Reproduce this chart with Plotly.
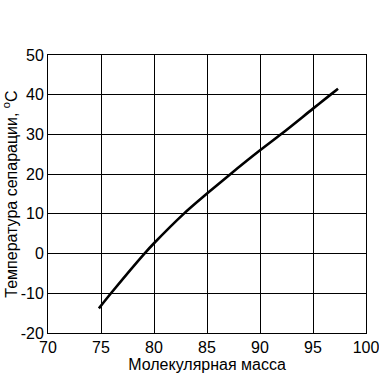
import plotly.graph_objects as go

mass = [74.8, 76.0, 79.1, 80.0, 82.8, 85.0, 87.2, 90.0, 92.1, 95.0, 96.6, 97.36]
temp = [-13.8, -9.8, 0.0, 2.6, 10.0, 15.1, 20.0, 26.0, 30.3, 36.5, 39.9, 41.5]

x_ticks = [70, 75, 80, 85, 90, 95, 100]
y_ticks = [-20, -10, 0, 10, 20, 30, 40, 50]

fig = go.Figure()
fig.add_trace(go.Scatter(x=mass, y=temp, mode="lines",
                         line=dict(color="black", width=2.6, shape="spline", smoothing=0.9),
                         showlegend=False))

font = dict(family="Liberation Sans, Arial, sans-serif", size=16, color="black")
axis_common = dict(showgrid=True, gridcolor="black", gridwidth=1,
                   showline=True, linecolor="black", linewidth=1, mirror=True,
                   zeroline=False, ticks="", tickfont=font, automargin=False,
                   ticklabeloverflow="allow")

fig.update_layout(
    width=379, height=378,
    margin=dict(l=48, r=13, t=55, b=45),
    paper_bgcolor="white", plot_bgcolor="white",
    xaxis=dict(range=[70, 100], tickvals=x_ticks, ticktext=[str(v) for v in x_ticks],
               title=dict(text="Молекулярная масса", font=font, standoff=0), **axis_common),
    yaxis=dict(range=[-20, 50], tickvals=y_ticks, ticktext=[str(v) for v in y_ticks],
               title=dict(text="Температура сепарации, <sup>o</sup>C", font=font, standoff=2),
               **axis_common),
)

fig.write_html("out.html")
